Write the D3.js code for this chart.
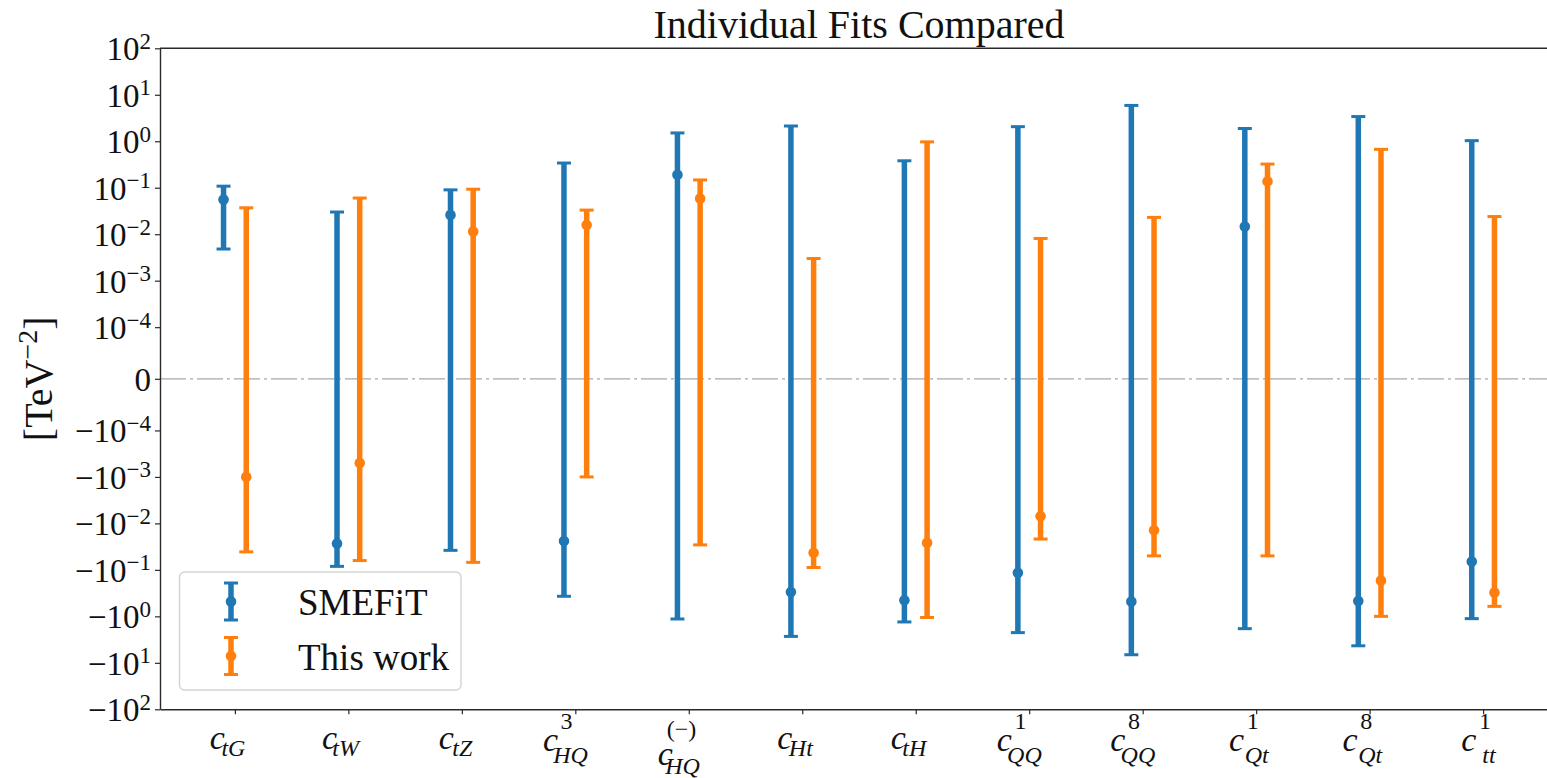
<!DOCTYPE html>
<html>
<head>
<meta charset="utf-8">
<script src="https://cdn.jsdelivr.net/npm/d3@7"></script>
<style>
  html, body { margin: 0; padding: 0; background: #fff; }
  svg text { font-family: "Liberation Serif", "Times New Roman", serif; fill: #111; }
</style>
</head>
<body>
<svg id="chart" width="1547" height="778"></svg>
<script>
// Wilson coefficients on the x axis: c with subscript and optional superscript
const categorySubs = ["tG", "tW", "tZ", "HQ", "HQ", "Ht", "tH", "QQ", "QQ", "Qt", "Qt", "tt"];
const categorySups = ["", "", "", "3", "(−)", "", "", "1", "8", "1", "8", "1"];

// SMEFiT individual fits [TeV^-2]
const smefitCentral = [0.056, -0.027, 0.026, -0.024, 0.19, -0.30, -0.45, -0.115, -0.48, 0.0146, -0.47, -0.066];
const smefitLow     = [0.0048, -0.084, -0.038, -0.37, -1.14, -2.7, -1.32, -2.24, -6.7, -1.84, -4.3, -1.12];
const smefitHigh    = [0.108, 0.030, 0.090, 0.34, 1.51, 2.13, 0.38, 2.06, 5.9, 1.88, 3.4, 1.03];

// This work individual fits [TeV^-2]
const thisCentral = [-0.001, -0.0005, 0.0115, 0.0157, 0.059, -0.043, -0.026, -0.0070, -0.014, 0.137, -0.17, -0.305];
const thisLow     = [-0.041, -0.063, -0.069, -0.001, -0.029, -0.089, -1.06, -0.0217, -0.050, -0.050, -1.0, -0.61];
const thisHigh    = [0.037, 0.060, 0.093, 0.033, 0.147, 0.003, 0.97, 0.0081, 0.023, 0.323, 0.67, 0.024];

// y ticks of the symmetric-log axis
const yTickValues = [-1e2, -1e1, -1e0, -1e-1, -1e-2, -1e-3, -1e-4, 0, 1e-4, 1e-3, 1e-2, 1e-1, 1e0, 1e1, 1e2];
const yTickLabels = ["−10^2", "−10^1", "−10^0", "−10^−1", "−10^−2", "−10^−3", "−10^−4", "0",
                     "10^−4", "10^−3", "10^−2", "10^−1", "10^0", "10^1", "10^2"];

const seriesNames = ["SMEFiT", "This work"];
const seriesColors = ["#1f77b4", "#ff7f0e"];

const FONT = '"Liberation Serif", "Times New Roman", serif';
const svg = d3.select("#chart");
const plot = { left: 160, right: 1558, top: 48.3, bottom: 709.3 };

// symmetric log transform, linear inside |v| < linthresh
const LINTHRESH = 1e-4;
const LINSCALE = 1 / (1 - 1 / 10);
function symlog(v) {
  const a = Math.abs(v);
  if (a <= LINTHRESH) return (v / LINTHRESH) * LINSCALE;
  return Math.sign(v) * (LINSCALE + Math.log10(a / LINTHRESH));
}

const yT = d3.scaleLinear().domain([symlog(-100), symlog(100)]).range([plot.bottom, plot.top]);
const yPos = v => yT(symlog(v));
const x = d3.scaleLinear().domain([-0.66, 11.66]).range([plot.left, plot.right]);

// zero reference line
svg.append("line")
  .attr("x1", plot.left).attr("x2", plot.right)
  .attr("y1", yPos(0)).attr("y2", yPos(0))
  .attr("stroke", "#a8a8a8").attr("stroke-width", 1.2)
  .attr("stroke-dasharray", "26,4,3,4");

// axes
const axisColor = "#2a2a2a";
const gx = svg.append("g")
  .attr("transform", `translate(0,${plot.bottom})`)
  .call(d3.axisBottom(x).tickValues(d3.range(categorySubs.length)).tickFormat("").tickSize(5).tickSizeOuter(0));
const gy = svg.append("g")
  .attr("transform", `translate(${plot.left},0)`)
  .call(d3.axisLeft(yT).tickValues(yTickValues.map(symlog)).tickFormat("").tickSize(5).tickSizeOuter(0));
[gx, gy].forEach(g => {
  g.attr("font-family", FONT);
  g.select(".domain").attr("stroke", axisColor).attr("stroke-width", 1.4);
  g.selectAll(".tick line").attr("stroke", axisColor).attr("stroke-width", 1.2);
  g.selectAll(".tick text").remove();
});
svg.append("line")
  .attr("x1", plot.left).attr("x2", plot.right)
  .attr("y1", plot.top).attr("y2", plot.top)
  .attr("stroke", axisColor).attr("stroke-width", 1.4);

// y tick labels with exponents
gy.selectAll(".tick").each(function (d, i) {
  const lab = yTickLabels[i];
  const t = d3.select(this).append("text")
    .attr("x", -9).attr("y", 11.5)
    .attr("text-anchor", "end")
    .attr("fill", "#111")
    .style("font-family", FONT)
    .style("font-size", "33px");
  if (lab.indexOf("^") < 0) {
    t.text(lab);
  } else {
    const [m, e] = lab.split("^");
    t.append("tspan").text(m);
    t.append("tspan").attr("dy", -11.5).style("font-size", "23px").text(e);
  }
});

// x tick labels: c with stacked sub/superscripts in one text element
gx.selectAll(".tick").each(function (d, i) {
  const sup = categorySups[i], sub = categorySubs[i];
  let cBase, supBase, subBase, subShift;
  if (!sup) { cBase = 40; subBase = 47; subShift = 1; }
  else if (sup.length === 1) { cBase = 42; supBase = 20; subBase = 54; subShift = 5; }
  else { cBase = 56; supBase = 28; subBase = 65; subShift = 2; }
  const g = d3.select(this).append("g");
  const t = g.append("text")
    .attr("fill", "#111")
    .style("font-family", FONT);
  const c = t.append("tspan").attr("x", 0).attr("y", cBase)
    .style("font-size", "34px").style("font-style", "italic").text("c");
  const cw = c.node().getComputedTextLength();
  let right = cw;
  if (sup) {
    const s2 = t.append("tspan").attr("x", cw + 1).attr("y", supBase)
      .style("font-size", "24px").style("font-style", "normal").text(sup);
    right = Math.max(right, cw + 1 + s2.node().getComputedTextLength());
  }
  const s1 = t.append("tspan").attr("x", cw + subShift).attr("y", subBase)
    .style("font-size", "24px").style("font-style", "italic").text(sub);
  right = Math.max(right, cw + subShift + s1.node().getComputedTextLength());
  g.attr("transform", `translate(${-right / 2 + 2},0)`);
});

// error bars
const series = [
  { central: smefitCentral, low: smefitLow, high: smefitHigh, offset: -0.1 },
  { central: thisCentral, low: thisLow, high: thisHigh, offset: 0.1 }
];
series.forEach((s, k) => {
  const color = seriesColors[k];
  const g = svg.append("g");
  const idx = d3.range(s.central.length);
  g.selectAll("line.bar").data(idx).join("line")
    .attr("x1", i => x(i + s.offset)).attr("x2", i => x(i + s.offset))
    .attr("y1", i => yPos(s.low[i])).attr("y2", i => yPos(s.high[i]))
    .attr("stroke", color).attr("stroke-width", 5.5);
  ["low", "high"].forEach(key => {
    g.selectAll(`line.cap-${key}`).data(idx).join("line")
      .attr("x1", i => x(i + s.offset) - 7).attr("x2", i => x(i + s.offset) + 7)
      .attr("y1", i => yPos(s[key][i])).attr("y2", i => yPos(s[key][i]))
      .attr("stroke", color).attr("stroke-width", 3);
  });
  g.selectAll("circle").data(idx).join("circle")
    .attr("cx", i => x(i + s.offset)).attr("cy", i => yPos(s.central[i]))
    .attr("r", 5.3).attr("fill", color);
});

// legend
const lg = svg.append("g");
lg.append("rect")
  .attr("x", 179.5).attr("y", 572).attr("width", 281.5).attr("height", 118)
  .attr("rx", 5).attr("fill", "#fff").attr("fill-opacity", 0.85)
  .attr("stroke", "#d3d3d3").attr("stroke-width", 1.4);
seriesNames.forEach((name, k) => {
  const cy = 601.5 + k * 54.5, hx = 231, color = seriesColors[k];
  lg.append("line").attr("x1", hx).attr("x2", hx).attr("y1", cy - 18.5).attr("y2", cy + 18.5)
    .attr("stroke", color).attr("stroke-width", 5.5);
  [-18.5, 18.5].forEach(dy => lg.append("line")
    .attr("x1", hx - 7).attr("x2", hx + 7).attr("y1", cy + dy).attr("y2", cy + dy)
    .attr("stroke", color).attr("stroke-width", 3));
  lg.append("circle").attr("cx", hx).attr("cy", cy).attr("r", 5.3).attr("fill", color);
  lg.append("text").attr("x", 298).attr("y", cy + 13.5)
    .style("font-family", FONT).style("font-size", "37px").text(name);
});

// title
svg.append("text")
  .attr("x", (plot.left + plot.right) / 2).attr("y", 38)
  .attr("text-anchor", "middle")
  .style("font-family", FONT).style("font-size", "40px")
  .text("Individual Fits Compared");

// y axis label
const yl = svg.append("text")
  .attr("transform", `translate(52,${(plot.top + plot.bottom) / 2}) rotate(-90)`)
  .attr("text-anchor", "middle")
  .style("font-family", FONT).style("font-size", "40px");
yl.append("tspan").text("[TeV");
yl.append("tspan").attr("dy", -15).style("font-size", "28px").text("−2");
yl.append("tspan").attr("dy", 15).text("]");
</script>
</body>
</html>
